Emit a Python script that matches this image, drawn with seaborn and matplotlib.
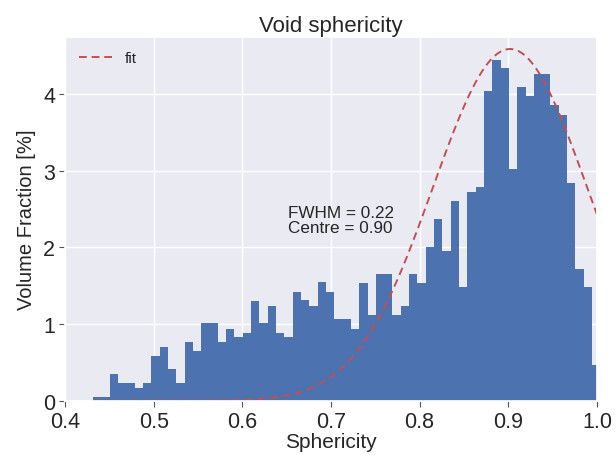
import numpy as np
import pandas as pd
import matplotlib
matplotlib.use("Agg")
import matplotlib.pyplot as plt
import seaborn as sns

# ---- data ----
bin_start = 0.4317
bin_width = 0.00938
heights = [0.05, 0.05, 0.35, 0.23, 0.23, 0.17, 0.23, 0.58, 0.70, 0.41,
           0.23, 0.76, 0.65, 1.01, 1.01, 0.77, 0.94, 0.83, 0.88, 1.30,
           1.01, 1.24, 0.88, 0.83, 1.42, 1.31, 1.24, 1.55, 1.42, 1.07,
           1.07, 0.94, 1.54, 1.12, 1.65, 1.65, 1.12, 1.24, 1.65, 1.54,
           2.01, 2.37, 1.96, 2.61, 1.48, 2.73, 2.79, 4.04, 4.45, 4.34,
           3.02, 4.09, 3.97, 4.27, 4.27, 3.86, 3.73, 2.84, 1.72, 1.48,
           0.47]
fit_centre = 0.902
fit_sigma = 0.087
fit_amp = 4.59
fwhm_label = 0.22
centre_label = 0.90
xticks = [0.4, 0.5, 0.6, 0.7, 0.8, 0.9, 1.0]
yticks = [0, 1, 2, 3, 4]

n = len(heights)
centers = bin_start + bin_width * (np.arange(n) + 0.5)
df = pd.DataFrame({"sphericity": centers, "fraction": heights})

xfit = np.linspace(bin_start, 1.0, 400)
yfit = fit_amp * np.exp(-0.5 * ((xfit - fit_centre) / fit_sigma) ** 2)
dfit = pd.DataFrame({"x": xfit, "y": yfit})

sns.set_theme(style="darkgrid")
plt.rcParams["font.family"] = ["Liberation Sans", "DejaVu Sans"]

fig = plt.figure(figsize=(6.16, 4.56), dpi=100)
ax = fig.add_axes([0.1055, 0.119, 0.8635, 0.7966])

sns.histplot(data=df, x="sphericity", weights="fraction",
             binwidth=bin_width, binrange=(bin_start, bin_start + n * bin_width),
             color="#4C72B0", alpha=1, linewidth=0, edgecolor="none", ax=ax)
sns.lineplot(data=dfit, x="x", y="y", color="#C44E52", linestyle=(0, (4, 2.5)),
             linewidth=1.4, label="fit", ax=ax)

ax.set_xlim(0.4, 1.0)
ax.set_ylim(0, 4.74)
ax.set_xticks(xticks)
ax.set_yticks(yticks)
ax.set_xticklabels([f"{t:.1f}" for t in xticks])
ax.set_yticklabels([str(t) for t in yticks])
ax.tick_params(axis="both", labelsize=15.5, length=4, width=0.8, color="#555555",
               bottom=True, left=True, labelcolor="#262626")
ax.tick_params(axis="x", pad=3.5)
ax.tick_params(axis="y", pad=3)

ax.set_xlabel("Sphericity", fontsize=15, color="#262626", labelpad=0)
ax.set_ylabel("Volume Fraction [%]", fontsize=14.5, color="#262626", labelpad=5)
ax.set_title("Void sphericity", fontsize=16, color="#262626", pad=5)

ax.text(0.651, 2.56, f"FWHM = {fwhm_label:.2f}\nCentre = {centre_label:.2f}",
        fontsize=12.3, va="top", ha="left", color="#262626", linespacing=1.05)

leg = ax.legend(loc="upper left", frameon=False, fontsize=11,
                handlelength=2.2, borderaxespad=0.5)

fig.savefig("out.png", dpi=100)
